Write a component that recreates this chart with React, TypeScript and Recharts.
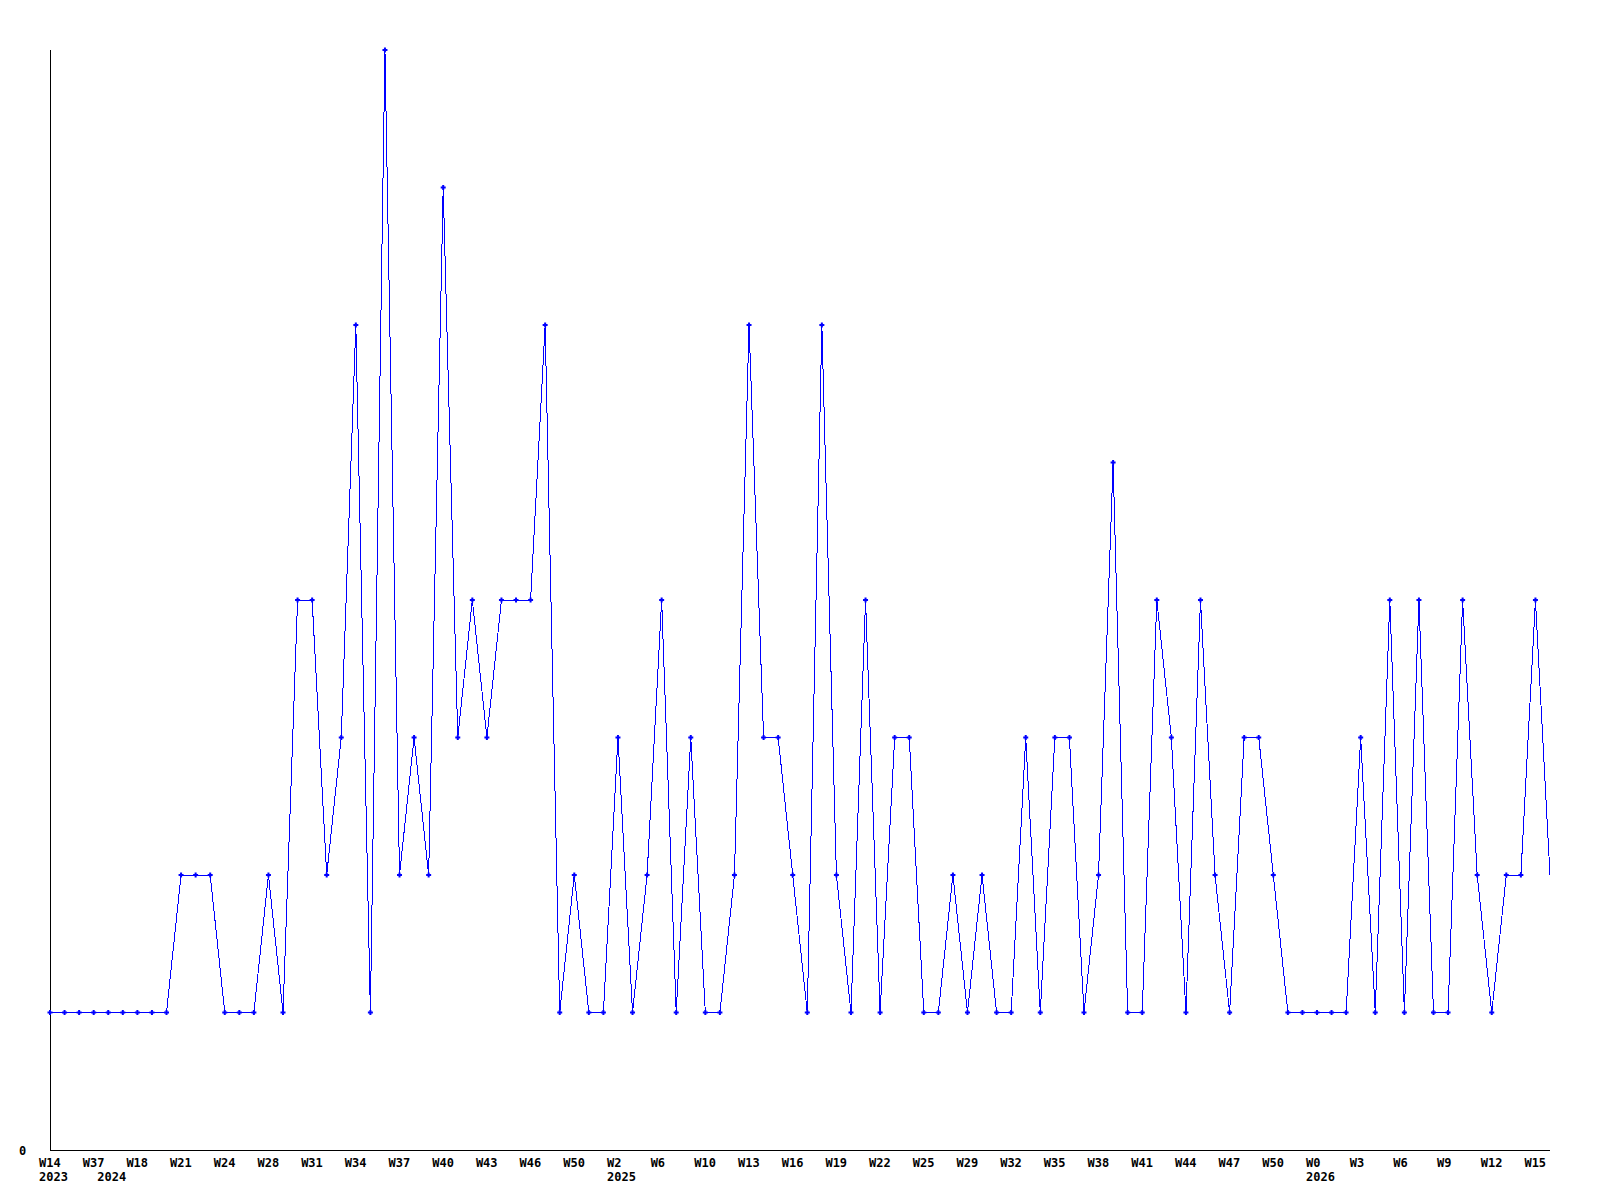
import React from 'react';
import { LineChart, Line, XAxis, YAxis } from 'recharts';

// weekly counts, one per point
const counts = [
  1, 1, 1, 1, 1, 1, 1, 1, 1,
  2, 2, 2, 1, 1, 1, 2, 1, 4, 4, 2,
  3, 6, 1, 8, 2, 3, 2, 7, 3, 4,
  3, 4, 4, 4, 6, 1, 2, 1, 1, 3,
  1, 2, 4, 1, 3, 1, 1, 2, 6, 3,
  3, 2, 1, 6, 2, 1, 4, 1, 3, 3,
  1, 1, 2, 1, 2, 1, 1, 3, 1, 3,
  3, 1, 2, 5, 1, 1, 4, 3, 1, 4,
  2, 1, 3, 3, 2, 1, 1, 1, 1, 1,
  3, 1, 4, 1, 4, 1, 1, 4, 2, 1,
  2, 2, 4, 2,
];

// week labels, shown on every 3rd point
const weekLabels = [
  'W14', 'W37', 'W18', 'W21', 'W24', 'W28', 'W31', 'W34', 'W37', 'W40', 'W43', 'W46',
  'W50', 'W2', 'W6', 'W10', 'W13', 'W16', 'W19', 'W22', 'W25', 'W29', 'W32', 'W35',
  'W38', 'W41', 'W44', 'W47', 'W50', 'W0', 'W3', 'W6', 'W9', 'W12', 'W15',
];
const weekEvery = 3;

// year labels under the first point of each year
const yearPoints = [0, 4, 39, 87];
const yearLabels = ['2023', '2024', '2025', '2026'];

const yTicks = [0];

const data = counts.map((v, i) => ({ i, v }));
const lastIndex = counts.length - 1;

const tickIndexes = Array.from(
  new Set([...weekLabels.map((_, k) => k * weekEvery), ...yearPoints])
).sort((a, b) => a - b);

const FONT = '"DejaVu Sans Mono", monospace';

const XTick = (props: any) => {
  const { x, y, payload } = props;
  const idx = payload.value as number;
  const week = idx % weekEvery === 0 ? weekLabels[idx / weekEvery] : null;
  const yi = yearPoints.indexOf(idx);
  // y comes in already shifted by tick size + margin (8px)
  return (
    <g>
      {week && (
        <text x={x - 11} y={y + 8.5} fontFamily={FONT} fontSize={12} fontWeight="bold" fill="#000">
          {week}
        </text>
      )}
      {yi >= 0 && (
        <text x={x - 11} y={y + 23} fontFamily={FONT} fontSize={12} fontWeight="bold" fill="#000">
          {yearLabels[yi]}
        </text>
      )}
    </g>
  );
};

const YTick = (props: any) => {
  const { y, payload } = props;
  return (
    <text x={19} y={y + 4.5} fontFamily={FONT} fontSize={12} fontWeight="bold" fill="#000">
      {payload.value}
    </text>
  );
};

const Marker = (props: any) => {
  const { cx, cy, index } = props;
  if (index === lastIndex || cx == null) return <g key={`d${index}`} />;
  return (
    <path
      key={`d${index}`}
      d={`M${cx - 2.5},${cy - 1}h1.5v-1.5h2v1.5h1.5v2h-1.5v1.5h-2v-1.5h-1.5z`}
      fill="#0000ff"
    />
  );
};

export default function App() {
  return (
    <div style={{ width: 1600, height: 1200, background: '#fff' }}>
      <style>{'body{margin:0;background:#fff}'}</style>
      <LineChart width={1600} height={1200} data={data} margin={{ top: 50, right: 50, left: 0, bottom: 0 }}>
        <XAxis
          dataKey="i"
          type="number"
          domain={[0, lastIndex]}
          ticks={tickIndexes}
          interval={0}
          height={50}
          tickLine={false}
          axisLine={{ stroke: '#000', strokeWidth: 1, shapeRendering: 'crispEdges' }}
          tick={<XTick />}
        />
        <YAxis
          type="number"
          domain={[0, 8]}
          ticks={yTicks}
          width={50}
          tickLine={false}
          axisLine={{ stroke: '#000', strokeWidth: 1, shapeRendering: 'crispEdges' }}
          tick={<YTick />}
        />
        <Line
          type="linear"
          dataKey="v"
          stroke="#0000ff"
          strokeWidth={1}
          dot={Marker}
          activeDot={false}
          isAnimationActive={false}
          shapeRendering="crispEdges"
        />
      </LineChart>
    </div>
  );
}
